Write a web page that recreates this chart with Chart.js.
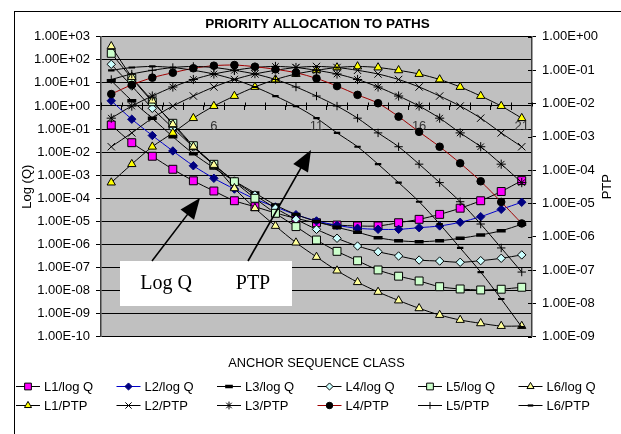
<!DOCTYPE html>
<html>
<head>
<meta charset="utf-8">
<script src="https://cdn.jsdelivr.net/npm/chart.js@4.4.1/dist/chart.umd.min.js"></script>
<style>
  html, body { margin: 0; padding: 0; background: #fff; }
  #wrap { width: 621px; height: 434px; }
</style>
</head>
<body>
<div id="wrap"><canvas id="c" width="621" height="434"></canvas></div>
<script>
// Anchor sequence classes on the category axis
const categories = ['1','2','3','4','5','6','7','8','9','10','11','12','13','14','15','16','17','18','19','20','21'];
const xTickLabels = ['6', '11', '16', '21'];

// Left axis: Log (Q)
const logQTicks = [1e3, 1e2, 1e1, 1, 1e-1, 1e-2, 1e-3, 1e-4, 1e-5, 1e-6, 1e-7, 1e-8, 1e-9, 1e-10];
const logQTickLabels = ['1.00E+03','1.00E+02','1.00E+01','1.00E+00','1.00E-01','1.00E-02','1.00E-03','1.00E-04','1.00E-05','1.00E-06','1.00E-07','1.00E-08','1.00E-09','1.00E-10'];
// Right axis: PTP
const ptpTicks = [1, 1e-1, 1e-2, 1e-3, 1e-4, 1e-5, 1e-6, 1e-7, 1e-8, 1e-9];
const ptpTickLabels = ['1.00E+00','1.00E-01','1.00E-02','1.00E-03','1.00E-04','1.00E-05','1.00E-06','1.00E-07','1.00E-08','1.00E-09'];

// Log Q per path
const l1LogQ = [0.149, 0.0255, 6.6e-3, 1.8e-3, 5.7e-4, 2.06e-4, 7.8e-5, 4.3e-5, 2.3e-5, 1.35e-5, 8.7e-6, 6.9e-6, 6.3e-6, 6.3e-6, 8.7e-6, 1.22e-5, 2.0e-5, 3.7e-5, 7.8e-5, 1.96e-4, 5.8e-4];
const l2LogQ = [1.67, 0.266, 0.0524, 0.0112, 2.55e-3, 7.3e-4, 2.5e-4, 9.3e-5, 4.2e-5, 1.94e-5, 1.04e-5, 6.7e-6, 5.0e-6, 4.5e-6, 4.5e-6, 5.3e-6, 6.3e-6, 9.1e-6, 1.59e-5, 3.3e-5, 6.7e-5];
const l3LogQ = [12.4, 1.69, 0.291, 0.0465, 8.5e-3, 2.05e-3, 5.6e-4, 1.69e-4, 5.1e-5, 1.98e-5, 9.8e-6, 5.5e-6, 3.35e-6, 1.95e-6, 1.45e-6, 1.31e-6, 1.45e-6, 1.84e-6, 2.56e-6, 3.9e-6, 7.4e-6];
const l4LogQ = [63.7, 7.3, 0.79, 0.111, 0.0166, 2.76e-3, 5.6e-4, 1.38e-4, 3.7e-5, 1.22e-5, 4.5e-6, 1.84e-6, 8.5e-7, 4.8e-7, 3.15e-7, 2.1e-7, 1.9e-7, 1.68e-7, 1.97e-7, 2.5e-7, 3.5e-7];
const l5LogQ = [191, 15.8, 1.53, 0.177, 0.0189, 2.96e-3, 5.2e-4, 9.96e-5, 2.23e-5, 5.9e-6, 1.55e-6, 5.0e-7, 1.95e-7, 7.8e-8, 4.2e-8, 2.6e-8, 1.47e-8, 1.17e-8, 1.06e-8, 1.14e-8, 1.39e-8];
const l6LogQ = [384, 17.9, 1.69, 0.160, 0.0171, 2.76e-3, 2.7e-4, 3.7e-5, 6.3e-6, 1.19e-6, 2.85e-7, 7.3e-8, 2.3e-8, 8.7e-9, 3.7e-9, 1.7e-9, 8.7e-10, 5.3e-10, 3.8e-10, 2.9e-10, 2.9e-10];

// PTP per path
const l1PTP = [4.2e-5, 1.5e-4, 5.0e-4, 1.3e-3, 3.6e-3, 8.3e-3, 0.0166, 0.031, 0.052, 0.076, 0.098, 0.119, 0.128, 0.119, 0.098, 0.076, 0.052, 0.031, 0.0166, 0.0083, 0.0036];
const l2PTP = [5.0e-4, 1.3e-3, 3.6e-3, 8.3e-3, 0.0166, 0.031, 0.052, 0.076, 0.098, 0.119, 0.128, 0.119, 0.098, 0.076, 0.052, 0.031, 0.0166, 0.0083, 0.0036, 0.0013, 5.0e-4];
const l3PTP = [0.0036, 0.0083, 0.0166, 0.031, 0.052, 0.076, 0.098, 0.119, 0.128, 0.119, 0.098, 0.076, 0.052, 0.031, 0.0166, 0.0083, 0.0036, 0.0013, 5.0e-4, 1.5e-4, 4.2e-5];
const l4PTP = [0.019, 0.036, 0.059, 0.083, 0.113, 0.135, 0.141, 0.126, 0.105, 0.083, 0.056, 0.033, 0.018, 0.0101, 0.0040, 1.4e-3, 5.0e-4, 1.6e-4, 4.6e-5, 1.1e-5, 2.5e-6];
const l5PTP = [0.052, 0.076, 0.098, 0.119, 0.128, 0.119, 0.098, 0.076, 0.052, 0.031, 0.0166, 0.0083, 0.0036, 0.0013, 5.0e-4, 1.5e-4, 4.2e-5, 1.12e-5, 2.4e-6, 4.6e-7, 8.7e-8];
const l6PTP = [0.098, 0.119, 0.128, 0.119, 0.098, 0.076, 0.052, 0.031, 0.0166, 0.0083, 0.0036, 0.0013, 5.0e-4, 1.5e-4, 4.2e-5, 1.12e-5, 2.4e-6, 4.6e-7, 8.7e-8, 1.35e-8, 1.95e-9];

const FONT = "'Liberation Sans', Arial, sans-serif";

function series(label, data, axis, style) {
  return Object.assign({
    label: label,
    data: data,
    yAxisID: axis,
    xAxisID: 'x',
    borderColor: '#000',
    borderWidth: 1,
    pointBorderColor: '#000',
    pointBorderWidth: 1,
    pointRadius: 4,
    tension: 0.3,
    fill: false
  }, style);
}

const datasets = [
  series('L1/log Q', l1LogQ, 'y', { pointStyle: 'rect', pointRadius: 5.6, pointBackgroundColor: '#FF00FF' }),
  series('L2/log Q', l2LogQ, 'y', { pointStyle: 'rectRot', pointRadius: 4.2, borderColor: '#0000CC', pointBackgroundColor: '#000080', pointBorderColor: '#000080' }),
  series('L3/log Q', l3LogQ, 'y', { pointStyle: 'line', pointRadius: 4.5, pointBorderWidth: 3.5, pointBackgroundColor: '#000' }),
  series('L4/log Q', l4LogQ, 'y', { pointStyle: 'rectRot', pointRadius: 4.2, pointBackgroundColor: '#CCFFFF' }),
  series('L5/log Q', l5LogQ, 'y', { pointStyle: 'rect', pointRadius: 5.6, pointBackgroundColor: '#CCFFCC' }),
  series('L6/log Q', l6LogQ, 'y', { pointStyle: 'triangle', pointRadius: 4.8, pointBackgroundColor: '#FFFF99' }),
  series('L1/PTP', l1PTP, 'y2', { pointStyle: 'triangle', pointRadius: 4.8, pointBackgroundColor: '#FFFF00' }),
  series('L2/PTP', l2PTP, 'y2', { pointStyle: 'crossRot', pointRadius: 5.2, pointBackgroundColor: '#000' }),
  series('L3/PTP', l3PTP, 'y2', { pointStyle: 'star', pointRadius: 4.6, pointBackgroundColor: '#000' }),
  series('L4/PTP', l4PTP, 'y2', { pointStyle: 'circle', pointRadius: 3.8, borderColor: '#A00000', pointBackgroundColor: '#000' }),
  series('L5/PTP', l5PTP, 'y2', { pointStyle: 'cross', pointRadius: 4.2, pointBackgroundColor: '#000' }),
  series('L6/PTP', l6PTP, 'y2', { pointStyle: 'line', pointRadius: 3.2, pointBorderWidth: 2.2, pointBackgroundColor: '#000' })
];
datasets.forEach((d, i) => { d.order = datasets.length - i; });

// Grey plot area and white page
const plotBackground = {
  id: 'plotBackground',
  beforeDraw(chart) {
    const { ctx, chartArea: a } = chart;
    ctx.save();
    ctx.fillStyle = '#fff';
    ctx.fillRect(0, 0, chart.width, chart.height);
    ctx.fillStyle = '#C0C0C0';
    ctx.fillRect(a.left, a.top, a.right - a.left, a.bottom - a.top);
    ctx.restore();
  }
};

// Callout box with the two arrows pointing at the curve families
function arrow(ctx, x1, y1, x2, y2, len, half) {
  const dx = x2 - x1, dy = y2 - y1;
  const d = Math.hypot(dx, dy);
  const ux = dx / d, uy = dy / d;
  const bx = x2 - ux * len, by = y2 - uy * len;
  ctx.beginPath();
  ctx.moveTo(x1, y1);
  ctx.lineTo(bx + ux * 2, by + uy * 2);
  ctx.stroke();
  ctx.beginPath();
  ctx.moveTo(x2, y2);
  ctx.lineTo(bx - uy * half, by + ux * half);
  ctx.lineTo(bx + uy * half, by - ux * half);
  ctx.closePath();
  ctx.fill();
}

const callout = {
  id: 'callout',
  afterDatasetsDraw(chart) {
    const { ctx } = chart;
    ctx.save();
    ctx.fillStyle = '#fff';
    ctx.fillRect(120, 261, 172, 45);
    ctx.fillStyle = '#000';
    ctx.font = "20px 'Liberation Serif', 'Times New Roman', serif";
    ctx.textAlign = 'center';
    ctx.textBaseline = 'middle';
    ctx.fillText('Log Q', 166, 284);
    ctx.fillText('PTP', 253, 284);
    ctx.strokeStyle = '#000';
    ctx.lineWidth = 1.6;
    arrow(ctx, 152, 261, 200, 198, 21, 8.5);
    arrow(ctx, 248, 261, 311, 150, 21, 8.5);
    ctx.restore();
  }
};

// Cross tick marks, right axis title, outer frame and the two-row legend
const frame = {
  id: 'frame',
  afterDraw(chart) {
    const { ctx, chartArea: a } = chart;
    const xs = chart.scales.x, ys = chart.scales.y, y2s = chart.scales.y2;
    ctx.save();
    ctx.strokeStyle = '#000';
    ctx.lineWidth = 1;
    // upper halves of the category tick marks
    const y0 = Math.round(ys.getPixelForValue(1)) + 0.5;
    const step = (xs.right - xs.left) / categories.length;
    ctx.beginPath();
    for (let k = 0; k <= categories.length; k++) {
      const x = Math.round(xs.left + k * step) + 0.5;
      ctx.moveTo(x, y0 - 4);
      ctx.lineTo(x, y0);
    }
    // inner halves of the right axis tick marks
    y2s.ticks.forEach((t) => {
      const y = Math.round(y2s.getPixelForValue(t.value)) + 0.5;
      ctx.moveTo(a.right - 4, y);
      ctx.lineTo(a.right, y);
    });
    ctx.stroke();

    // right axis title, reading upwards like the left one
    ctx.fillStyle = '#000';
    ctx.font = '13px ' + FONT;
    ctx.textAlign = 'center';
    ctx.textBaseline = 'middle';
    ctx.save();
    ctx.translate(607, (a.top + a.bottom) / 2);
    ctx.rotate(-Math.PI / 2);
    ctx.fillText('PTP', 0, 0);
    ctx.restore();

    // outer frame
    ctx.strokeRect(14.5, 11.5, 607, 430);

    // legend
    ctx.font = '13px ' + FONT;
    ctx.textBaseline = 'middle';
    ctx.textAlign = 'left';
    chart.data.datasets.forEach((ds, i) => {
      const col = i % 6, row = Math.floor(i / 6);
      const x0 = 16 + col * 100.5;
      const y = 386 + row * 19;
      ctx.strokeStyle = ds.borderColor;
      ctx.lineWidth = 1;
      ctx.beginPath();
      ctx.moveTo(x0, y + 0.5);
      ctx.lineTo(x0 + 24, y + 0.5);
      ctx.stroke();
      ctx.fillStyle = ds.pointBackgroundColor;
      ctx.strokeStyle = ds.pointBorderColor;
      ctx.lineWidth = ds.pointBorderWidth;
      Chart.helpers.drawPoint(ctx, { pointStyle: ds.pointStyle, radius: ds.pointRadius * 0.85, rotation: 0, borderWidth: ds.pointBorderWidth }, x0 + 12, y + 0.5);
      ctx.fillStyle = '#000';
      ctx.fillText(ds.label, x0 + 28, y + 1);
    });
    ctx.restore();
  }
};

new Chart(document.getElementById('c'), {
  type: 'line',
  data: { labels: categories, datasets: datasets },
  plugins: [plotBackground, callout, frame],
  options: {
    responsive: false,
    animation: false,
    events: [],
    layout: { padding: { left: 14, right: 0, top: 0, bottom: 57.3 } },
    plugins: {
      legend: { display: false },
      tooltip: { enabled: false },
      title: {
        display: true,
        text: 'PRIORITY ALLOCATION TO PATHS',
        color: '#000',
        font: { family: FONT, size: 13.5, weight: 'bold' },
        padding: { top: 16.4, bottom: 4.1 }
      }
    },
    scales: {
      x: {
        type: 'category',
        position: { y: 1 },
        offset: true,
        grid: { display: true, offset: true, drawOnChartArea: false, drawTicks: true, tickLength: 4, color: '#000', lineWidth: 1 },
        border: { display: true, color: '#000', width: 1 },
        ticks: {
          autoSkip: false, maxRotation: 0, padding: 8.2, color: '#333',
          font: { family: FONT, size: 13 },
          callback: function (v, i) { const l = categories[i]; return xTickLabels.includes(l) ? l : ''; }
        }
      },
      x2: {
        type: 'category',
        position: 'bottom',
        offset: true,
        grid: { display: false },
        border: { display: false },
        ticks: { display: false },
        title: { display: true, text: 'ANCHOR SEQUENCE CLASS', color: '#000', font: { family: FONT, size: 12.8 }, padding: { top: 0, bottom: 5.9 } },
        afterFit(s) { s.height = 40; }
      },
      y: {
        type: 'logarithmic',
        position: 'left',
        min: 1e-10, max: 1e3,
        afterBuildTicks(s) { s.ticks = logQTicks.map(v => ({ value: v })); },
        afterFit(s) { s.width = 87; },
        grid: { color: '#000', lineWidth: 1, tickLength: 5, drawTicks: true },
        border: { color: '#404040', width: 1.5 },
        ticks: {
          padding: 6, color: '#000', font: { family: FONT, size: 13 },
          callback: function (v, i) { return logQTickLabels[logQTicks.indexOf(v)] ?? ''; }
        },
        title: { display: true, text: 'Log (Q)', color: '#000', font: { family: FONT, size: 13 }, padding: { top: 5.2, bottom: 0 } }
      },
      y2: {
        type: 'logarithmic',
        position: 'right',
        min: 1e-9, max: 1,
        afterBuildTicks(s) { s.ticks = ptpTicks.map(v => ({ value: v })); },
        afterFit(s) { s.width = 89; },
        grid: { drawOnChartArea: false, color: '#000', lineWidth: 1, tickLength: 4 },
        border: { color: '#404040', width: 1.5 },
        ticks: {
          padding: 6, color: '#000', font: { family: FONT, size: 13 },
          callback: function (v, i) { return ptpTickLabels[ptpTicks.indexOf(v)] ?? ''; }
        }
      }
    }
  }
});
</script>
</body>
</html>
